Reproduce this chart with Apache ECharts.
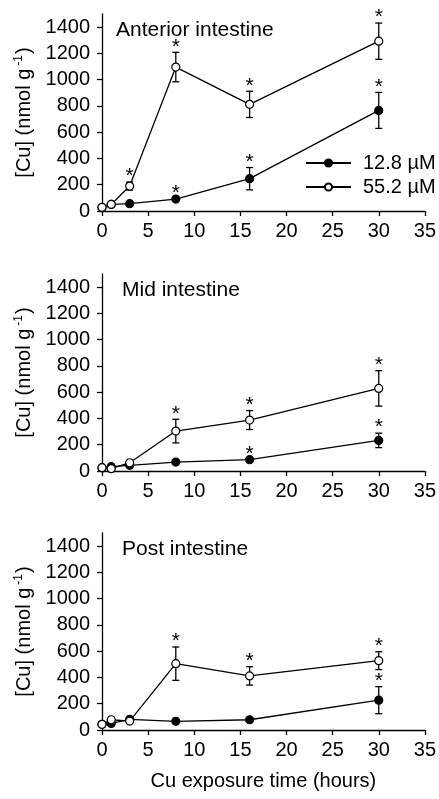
<!DOCTYPE html>
<html><head><meta charset="utf-8">
<script src="https://cdn.jsdelivr.net/npm/echarts@6/dist/echarts.min.js"></script>
<style>html,body{margin:0;padding:0;background:#fff}#c{width:439px;height:799px}</style>
</head><body><div id="c"></div>
<script>
const hours = [0, 1, 3, 8, 16, 30];
const xTicks = [0, 5, 10, 15, 20, 25, 30, 35];
const yTicks = [0, 200, 400, 600, 800, 1000, 1200, 1400];
const panelTitles = ['Anterior intestine', 'Mid intestine', 'Post intestine'];
const seriesNames = ['12.8 µM', '55.2 µM'];

// Anterior
const antLow = [25, 50, 56, 91, 246, 766];
const antLowErr = [0, 0, 0, 0, 85, 137];
const antLowSig = [0, 0, 0, 1, 1, 1];
const antHigh = [28, 50, 190, 1096, 812, 1293];
const antHighErr = [0, 0, 31, 112, 100, 138];
const antHighSig = [0, 0, 1, 1, 1, 1];
// Mid
const midLow = [25, 33, 43, 68, 86, 233];
const midLowErr = [0, 0, 0, 0, 0, 55];
const midLowSig = [0, 0, 0, 0, 1, 1];
const midHigh = [25, 18, 63, 304, 388, 629];
const midHighErr = [0, 0, 0, 90, 72, 135];
const midHighSig = [0, 0, 0, 1, 1, 1];
// Post
const postLow = [43, 50, 81, 66, 78, 227];
const postLowErr = [0, 0, 0, 0, 0, 103];
const postLowSig = [0, 0, 0, 0, 0, 1];
const postHigh = [43, 78, 68, 505, 412, 528];
const postHighErr = [0, 0, 0, 127, 70, 68];
const postHighSig = [0, 0, 0, 1, 1, 1];

const panels = [
  {low: antLow, lowErr: antLowErr, lowSig: antLowSig, high: antHigh, highErr: antHighErr, highSig: antHighSig},
  {low: midLow, lowErr: midLowErr, lowSig: midLowSig, high: midHigh, highErr: midHighErr, highSig: midHighSig},
  {low: postLow, lowErr: postLowErr, lowSig: postLowSig, high: postHigh, highErr: postHighErr, highSig: postHighSig}
];

const FONT = "'Liberation Sans', Arial, sans-serif";
const FS = 20;
const gridTops = [14, 274, 533];
const gridH = 197;

const grids = [], xAxes = [], yAxes = [], series = [], titles = [];
panels.forEach((p, i) => {
  grids.push({left: 102, right: 12, top: gridTops[i], height: gridH});
  xAxes.push({
    type: 'value', gridIndex: i, min: 0, max: 35, interval: 5,
    axisLine: {lineStyle: {color: '#000', width: 1.3}},
    axisTick: {length: 5, lineStyle: {color: '#000', width: 1.3}},
    axisLabel: {color: '#000', fontSize: FS, fontFamily: FONT, margin: 10},
    splitLine: {show: false},
    name: i === 2 ? 'Cu exposure time (hours)' : '',
    nameLocation: 'middle', nameGap: 41,
    nameTextStyle: {color: '#000', fontSize: FS, fontFamily: FONT}
  });
  yAxes.push({
    type: 'value', gridIndex: i, min: 0, max: 1500,
    axisLine: {show: true, lineStyle: {color: '#000', width: 1.3}},
    axisTick: {show: true, length: 5, customValues: yTicks, lineStyle: {color: '#000', width: 1.3}},
    axisLabel: {color: '#000', fontSize: FS, fontFamily: FONT, margin: 12, customValues: yTicks,
      formatter: v => String(v)},
    splitLine: {show: false},
    name: '{a|[Cu] (nmol g}{s|-1}{a|)}',
    nameLocation: 'middle', nameGap: 60, nameRotate: 90,
    nameTextStyle: {
      rich: {
        a: {color: '#000', fontSize: FS, fontFamily: FONT, lineHeight: 22, verticalAlign: 'bottom'},
        s: {color: '#000', fontSize: 12, fontFamily: FONT, lineHeight: 22, verticalAlign: 'top', padding: [0, 1, 0, 3]}
      }
    }
  });
  titles.push({
    text: panelTitles[i], left: i === 0 ? 111 : 117, top: gridTops[i] + 1,
    textStyle: {color: '#000', fontSize: 21, fontWeight: 'normal', fontFamily: FONT}
  });

  const groups = [
    {name: seriesNames[0], vals: p.low, err: p.lowErr, sig: p.lowSig, fill: '#000'},
    {name: seriesNames[1], vals: p.high, err: p.highErr, sig: p.highSig, fill: '#fff'}
  ];
  // error bars
  groups.forEach(g => {
    const ed = [];
    hours.forEach((h, k) => { if (g.err[k] > 0) ed.push([h, g.vals[k] - g.err[k], g.vals[k] + g.err[k]]); });
    series.push({
      type: 'custom', xAxisIndex: i, yAxisIndex: i, z: 1, silent: true,
      data: ed,
      renderItem: (params, api) => {
        const lo = api.coord([api.value(0), api.value(1)]);
        const hi = api.coord([api.value(0), api.value(2)]);
        const w = 3.5;
        const st = {stroke: '#000', lineWidth: 1.3};
        return {type: 'group', children: [
          {type: 'line', shape: {x1: lo[0], y1: lo[1], x2: hi[0], y2: hi[1]}, style: st},
          {type: 'line', shape: {x1: hi[0] - w, y1: hi[1], x2: hi[0] + w, y2: hi[1]}, style: st},
          {type: 'line', shape: {x1: lo[0] - w, y1: lo[1], x2: lo[0] + w, y2: lo[1]}, style: st}
        ]};
      }
    });
  });
  // lines
  groups.forEach((g, gi) => {
    series.push({
      type: 'line', name: g.name, xAxisIndex: i, yAxisIndex: i, z: 3 + gi,
      data: hours.map((h, k) => [h, g.vals[k]]),
      symbol: 'circle', symbolSize: 8, showAllSymbol: true,
      lineStyle: {color: '#000', width: 1.3},
      itemStyle: {color: g.fill, borderColor: '#000', borderWidth: 1.2},
      emphasis: {disabled: true}, animation: false
    });
  });
  // significance asterisks
  groups.forEach(g => {
    const sd = [];
    hours.forEach((h, k) => { if (g.sig[k]) sd.push([h, g.vals[k] + g.err[k]]); });
    series.push({
      type: 'scatter', xAxisIndex: i, yAxisIndex: i, z: 6, silent: true,
      data: sd, symbolSize: 8, itemStyle: {opacity: 0},
      label: {show: true, position: 'top', distance: -9, formatter: '*',
        color: '#000', fontSize: 21, fontFamily: FONT, opacity: 1}
    });
  });
});

const chart = echarts.init(document.getElementById('c'), null, {renderer: 'canvas'});
chart.setOption({
  animation: false,
  backgroundColor: '#fff',
  title: titles,
  legend: {
    data: seriesNames, left: 305, top: 153, orient: 'vertical', padding: 0,
    itemWidth: 45, itemHeight: 9, itemGap: 4,
    textStyle: {color: '#000', fontSize: FS, fontFamily: FONT, padding: [0, 0, 0, 7]}
  },
  grid: grids, xAxis: xAxes, yAxis: yAxes, series: series
});
</script></body></html>
